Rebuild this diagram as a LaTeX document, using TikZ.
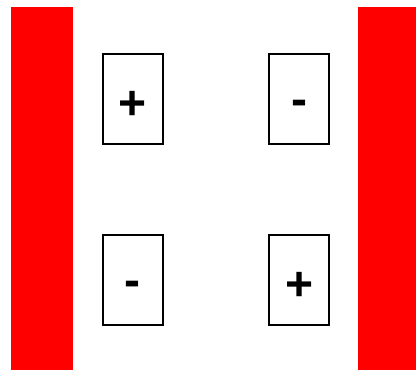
\documentclass[tikz,border=0pt]{standalone}
\usepackage{fontspec}
\setmainfont{Liberation Sans}
\begin{document}
\begin{tikzpicture}[x=1pt,y=-1pt,
  plate/.style={fill=red,draw=none},
  cell/.style={draw=black,line width=2pt,fill=white,minimum width=60pt,minimum height=90pt,inner sep=0pt,outer sep=0pt},
  sign/.style={font=\bfseries\fontsize{48}{48}\selectfont,inner sep=0pt,anchor=base}]
\useasboundingbox (0,0) rectangle (416,370);
\fill[white] (0,0) rectangle (416,370);
\fill[plate] (11,7) rectangle (73,370);
\fill[plate] (358,7) rectangle (416,370);
\node[cell] (b1) at (132.7,98.5) {};
\node[cell] (b2) at (299.2,98.5) {};
\node[cell] (b3) at (132.7,280) {};
\node[cell] (b4) at (299.2,280) {};
\node[sign] (s1) at (132.7,119.6) {+};
\node[sign] (s2) at (299.2,115.0) {-};
\node[sign] (s3) at (132.7,296.1) {-};
\node[sign] (s4) at (299.2,300.5) {+};
\end{tikzpicture}
\end{document}
